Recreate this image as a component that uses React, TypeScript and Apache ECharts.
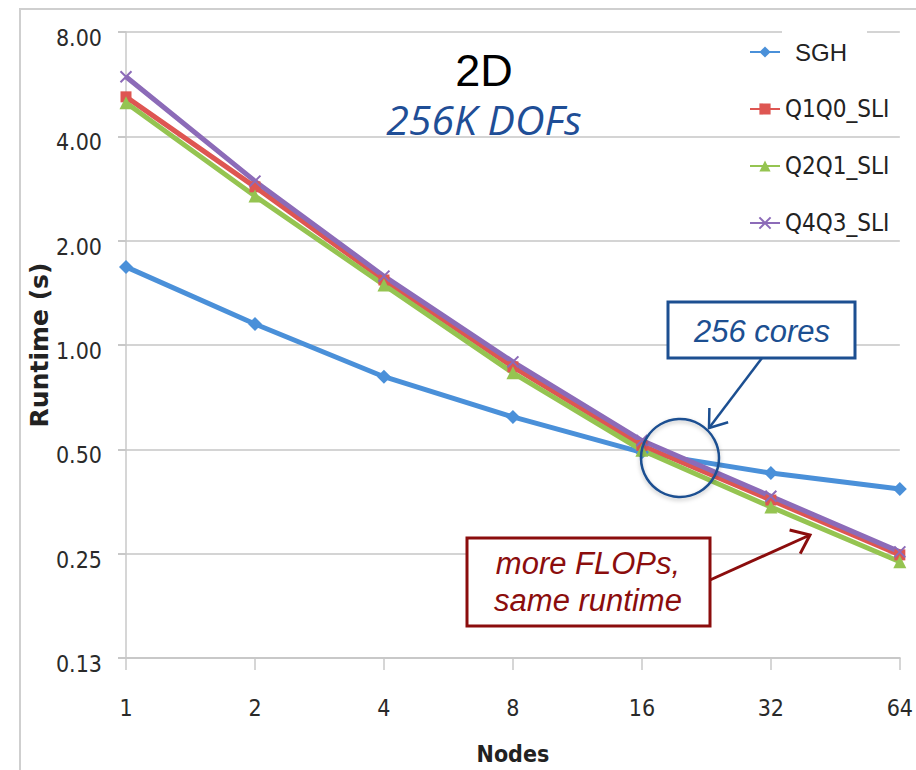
import React, { useEffect, useRef } from "react";
import * as echarts from "echarts";

const nodes = ["1", "2", "4", "8", "16", "32", "64"];
const yTicks = [0.125, 0.25, 0.5, 1, 2, 4, 8];
const sgh = [1.68, 1.15, 0.81, 0.62, 0.49, 0.427, 0.384];
const q1q0 = [5.2, 2.86, 1.54, 0.865, 0.513, 0.357, 0.248];
const q2q1 = [5.0, 2.69, 1.49, 0.831, 0.497, 0.341, 0.237];
const q4q3 = [5.94, 2.97, 1.58, 0.894, 0.53, 0.366, 0.253];
const seriesNames = ["SGH", "Q1Q0_SLI", "Q2Q1_SLI", "Q4Q3_SLI"];

const NARROW = '"Liberation Sans Narrow", "DejaVu Sans Condensed", sans-serif';
const ARIAL = '"Liberation Sans", Arial, sans-serif';

function arrowHead(tip: number[], from: number[], len: number, deg: number) {
  const dx = from[0] - tip[0];
  const dy = from[1] - tip[1];
  const d = Math.hypot(dx, dy);
  const ux = dx / d, uy = dy / d;
  const a = (deg * Math.PI) / 180;
  const rot = (s: number) => [
    tip[0] + len * (ux * Math.cos(s * a) - uy * Math.sin(s * a)),
    tip[1] + len * (ux * Math.sin(s * a) + uy * Math.cos(s * a)),
  ];
  return [rot(1), tip, rot(-1)];
}

export default function App() {
  const ref = useRef<HTMLDivElement>(null);
  useEffect(() => {
    if (!ref.current) return;
    const chart = echarts.init(ref.current, null, { renderer: "svg" });
    const blue = "#1c4f91";
    const dred = "#8b0d0d";
    const blueFrom = [762, 358], blueTip = [709, 428];
    const redFrom = [710, 580], redTip = [810, 535];
    const mk = (name: string, data: number[], color: string, symbol: string, size: number, extra: any = {}) => ({
      name,
      type: "line",
      data,
      symbol,
      symbolSize: size,
      lineStyle: { width: 5, color },
      itemStyle: { color, ...extra },
      emphasis: { disabled: true },
    });
    chart.setOption({
      animation: false,
      backgroundColor: "#fff",
      title: {
        text: "2D",
        subtext: "256K DOFs",
        left: 484,
        top: 48,
        padding: 0,
        textAlign: "center",
        itemGap: 8,
        textStyle: { fontFamily: ARIAL, fontSize: 45, lineHeight: 44, fontWeight: "normal", color: "#000" },
        subtextStyle: {
          fontFamily: '"Open Sans", sans-serif',
          fontStyle: "italic",
          fontSize: 41,
          lineHeight: 36,
          color: "#1f4e96",
        },
      },
      legend: {
        orient: "vertical",
        left: 744,
        top: 32,
        itemWidth: 30,
        itemHeight: 14,
        itemGap: 27,
        textStyle: { fontFamily: NARROW, fontSize: 24, color: "#222", lineHeight: 30 },
        data: [
          { name: "SGH", textStyle: { fontFamily: ARIAL, fontSize: 24, padding: [0, 0, 0, 10] } },
          seriesNames[1],
          seriesNames[2],
          seriesNames[3],
        ],
      },
      grid: { left: 126, top: 32, width: 778, height: 630, containLabel: false },
      xAxis: {
        type: "category",
        data: nodes,
        boundaryGap: false,
        name: "Nodes",
        nameLocation: "middle",
        nameGap: 84,
        nameMoveOverlap: false,
        nameTextStyle: { fontFamily: NARROW, fontSize: 23, fontWeight: "bold", color: "#222" },
        axisLine: { lineStyle: { color: "#c8c8c8", width: 2 } },
        axisTick: { show: true, length: 12, lineStyle: { color: "#c8c8c8", width: 1.5 } },
        axisLabel: { fontFamily: NARROW, fontSize: 23, color: "#2a2a2a", margin: 38 },
        splitLine: { show: false },
      },
      yAxis: {
        type: "log",
        logBase: 2,
        min: yTicks[0],
        max: yTicks[yTicks.length - 1],
        splitNumber: 6,
        name: "Runtime (s)",
        nameLocation: "middle",
        nameGap: 74,
        nameMoveOverlap: false,
        nameRotate: 90,
        nameTextStyle: { fontFamily: '"DejaVu Sans", sans-serif', fontSize: 25, fontWeight: "bold", color: "#222" },
        axisLine: { show: true, lineStyle: { color: "#c8c8c8", width: 1.5 } },
        axisTick: { show: true, length: 8, lineStyle: { color: "#c8c8c8", width: 2 } },
        axisLabel: {
          fontFamily: NARROW,
          fontSize: 23,
          color: "#2a2a2a",
          margin: 24,
          verticalAlign: "top",
          lineHeight: 12,
          formatter: (v: number) => (Math.round(v * 1000) / 1000).toFixed(2),
        },
        splitLine: { show: true, lineStyle: { color: "#d4d4d4", width: 2 } },
      },
      series: [
        mk(seriesNames[0], sgh, "#4a90d9", "diamond", 14),
        mk(seriesNames[1], q1q0, "#de5652", "rect", 11),
        mk(seriesNames[2], q2q1, "#95c451", "triangle", 13),
        mk(seriesNames[3], q4q3, "#8c6bb8", "path://M0 0 L10 10 M10 0 L0 10", 11, {
          borderColor: "#8c6bb8",
          borderWidth: 2,
        }),
      ],
      graphic: [
        {
          type: "polyline",
          shape: { points: [[20, 770], [20, 9], [916, 9]] },
          style: { stroke: "#cfcfcf", lineWidth: 2, fill: null },
          z: 1,
        },
        {
          type: "rect",
          shape: { x: 782, y: 25, width: 85, height: 14 },
          style: { fill: "#fff" },
          z: 1,
        },
        {
          type: "circle",
          shape: { cx: 680, cy: 458, r: 39 },
          style: { fill: "transparent", stroke: blue, lineWidth: 2.5, shadowBlur: 4, shadowColor: "rgba(0,0,0,0.25)", shadowOffsetY: 2 },
          z: 10,
        },
        {
          type: "line",
          shape: { x1: blueFrom[0], y1: blueFrom[1], x2: blueTip[0], y2: blueTip[1] },
          style: { stroke: blue, lineWidth: 2.5 },
          z: 10,
        },
        {
          type: "polyline",
          shape: { points: arrowHead(blueTip, blueFrom, 20, 36) },
          style: { stroke: blue, lineWidth: 2.5, fill: null },
          z: 10,
        },
        {
          type: "rect",
          shape: { x: 668, y: 302, width: 187, height: 56 },
          style: { fill: "#fff", stroke: blue, lineWidth: 3 },
          z: 10,
        },
        {
          type: "text",
          x: 762,
          y: 331,
          style: {
            text: "256 cores",
            font: `italic 31px ${ARIAL}`,
            fill: blue,
            textAlign: "center",
            textVerticalAlign: "middle",
          },
          z: 11,
        },
        {
          type: "line",
          shape: { x1: redFrom[0], y1: redFrom[1], x2: redTip[0], y2: redTip[1] },
          style: { stroke: dred, lineWidth: 3 },
          z: 10,
        },
        {
          type: "polyline",
          shape: { points: arrowHead(redTip, redFrom, 21, 38) },
          style: { stroke: dred, lineWidth: 3, fill: null },
          z: 10,
        },
        {
          type: "rect",
          shape: { x: 467, y: 538, width: 243, height: 88 },
          style: { fill: "#fff", stroke: dred, lineWidth: 3 },
          z: 10,
        },
        {
          type: "text",
          x: 588,
          y: 563,
          style: {
            text: "more FLOPs,",
            font: `italic 31px ${ARIAL}`,
            fill: dred,
            textAlign: "center",
            textVerticalAlign: "middle",
          },
          z: 11,
        },
        {
          type: "text",
          x: 588,
          y: 600,
          style: {
            text: "same runtime",
            font: `italic 31px ${ARIAL}`,
            fill: dred,
            textAlign: "center",
            textVerticalAlign: "middle",
          },
          z: 11,
        },
      ],
    });
    return () => chart.dispose();
  }, []);
  return (
    <div
      ref={ref}
      style={{ position: "fixed", left: 0, top: 0, width: 916, height: 770, background: "#fff" }}
    />
  );
}
